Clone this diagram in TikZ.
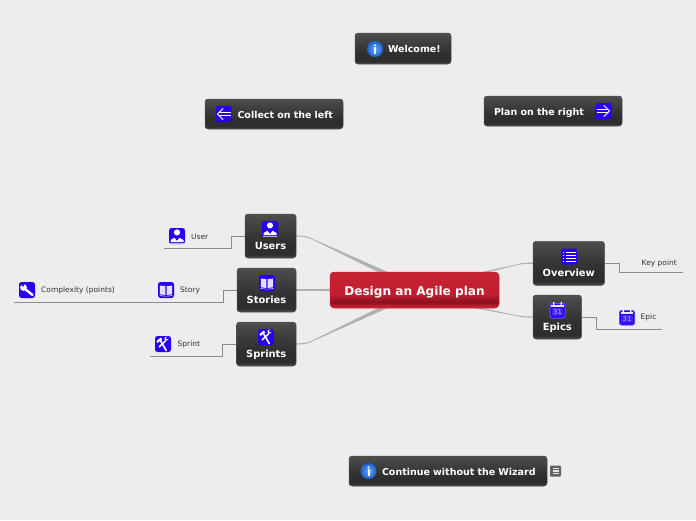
\documentclass[tikz,border=0pt]{standalone}
\usepackage{fontspec}
\setmainfont{DejaVu Sans}
\usetikzlibrary{calc}
\definecolor{pagebg}{HTML}{EDEDED}
\definecolor{iconblue}{HTML}{2800F0}
\definecolor{iconpale}{HTML}{3C20FF}
\definecolor{bareline}{HTML}{8C8C8C}
\definecolor{mainline}{HTML}{B0B0B0}
\definecolor{dkA}{HTML}{4E4E4E}
\definecolor{dkB}{HTML}{3A3A3A}
\definecolor{dkC}{HTML}{2E2E2E}
\definecolor{dkD}{HTML}{505050}
\definecolor{rdA}{HTML}{C82233}
\definecolor{rdB}{HTML}{C01F30}
\definecolor{rdC}{HTML}{8C1020}
\definecolor{rdD}{HTML}{C42030}
\definecolor{infoA}{HTML}{64ACF6}
\definecolor{infoB}{HTML}{1C5FD0}
\pgfdeclareverticalshading{darkbox}{100bp}{
 color(0bp)=(dkD); color(25bp)=(dkD); color(29bp)=(dkC); color(40bp)=(dkC);
 color(55bp)=(dkB); color(75bp)=(dkA); color(100bp)=(dkA)}
\pgfdeclareverticalshading{redbox}{100bp}{
 color(0bp)=(rdD); color(25bp)=(rdD); color(28bp)=(rdB); color(33bp)=(rdC); color(44bp)=(rdB);
 color(75bp)=(rdA); color(100bp)=(rdA)}
\tikzset{
 x=1pt,y=-1pt,
 darknode/.style={shading=darkbox,rounded corners=3pt,draw=dkD,line width=.5pt,inner xsep=0pt,inner ysep=0pt,text=white,font=\bfseries\fontsize{9.5}{11}\selectfont,minimum height=30pt,text height=8.5pt,text depth=0pt},
 topic/.style={darknode,font=\bfseries\fontsize{9.9}{12}\selectfont,minimum height=44pt,text height=26pt,text depth=0pt,align=center},
 rootnode/.style={shading=redbox,rounded corners=4pt,draw=rdA,line width=.5pt,text=white,font=\bfseries\fontsize{12.1}{14}\selectfont,minimum width=169pt,minimum height=36pt,inner sep=0pt,text height=11pt,text depth=0pt},
 leaf/.style={font=\fontsize{7.5}{8}\selectfont,text=black!80,inner sep=0pt,anchor=west},
 taper/.style={fill=mainline,draw=mainline,line width=.6pt,line join=round},
 stem/.style={draw=mainline,line width=1.1pt},
 twig/.style={draw=bareline,line width=1pt},
 tile/.pic={\fill[iconblue,rounded corners=2.5pt] (-8,-8) rectangle (8,8);},
 usericon/.pic={\pic{tile};\fill[white] (0,-3.6) circle (3.1);
   \fill[white] (-6.5,6) -- (-6.5,4) -- (-2.5,1.8) -- (0,5) -- (2.5,1.8) -- (6.5,4) -- (6.5,6) -- cycle;
   \draw[white!70!iconblue,line width=.6pt] (-7,7.2) -- (7,7.2);},
 bookicon/.pic={\pic{tile};\fill[white!88!iconblue] (-6.2,-4.5) -- (-.7,-3.8) -- (-.7,5) -- (-6.2,4.3) -- cycle (6.2,-4.5) -- (.7,-3.8) -- (.7,5) -- (6.2,4.3) -- cycle;
   \draw[white,line width=.5pt] (-6.5,5.5) -- (-.5,6.2) (6.5,5.5) -- (.5,6.2);},
 wrenchicon/.pic={\pic{tile};\draw[white,line width=2.4pt,line cap=round] (-2.5,-1.5) -- (5.5,5);
   \fill[white] (-3.5,-2.5) circle (3.4);\fill[iconblue] (-7,-6.5) -- (-3.8,-3) -- (-2.4,-6.8) -- cycle;},
 toolicon/.pic={\pic{tile};\draw[white,line width=1.6pt] (-2.5,-3.5) -- (3.5,7);
   \draw[white,line width=1.4pt] (3,-3.5) -- (-4,3);\draw[white,line width=2.2pt] (-6,-2) -- (-1.5,-5.5);
   \fill[white] (3.5,-5.5) circle (2);\fill[iconblue] (4,-8) -- (2.8,-5) -- (6,-5) -- cycle;},
 calicon/.pic={\fill[iconpale!80!white,rounded corners=2.5pt] (-8,-7) rectangle (8,8.5);
   \fill[iconblue,rounded corners=1.5pt] (-7,-6) rectangle (7,7.5);
   \fill[iconpale] (-5.8,-2.5) rectangle (5.8,6.2);\fill[white!90!iconblue] (-6.2,-4.8) rectangle (6.2,-3);\fill[white] (-4.3,-8) rectangle (-3.1,-4) (3.1,-8) rectangle (4.3,-4);
   \node[text=white!70!iconblue,inner sep=0pt,font=\fontsize{7}{7}\selectfont] at (0,2) {31};},
 listicon/.pic={\pic{tile};\foreach \yy in {-4.5,-1.5,1.5,4.5}{\fill[white] (-6.5,\yy-.45) rectangle (-5,\yy+.45);\fill[white] (-3.5,\yy-.45) rectangle (6.5,\yy+.45);}},
 lefticon/.pic={\pic{tile};\draw[white,line width=1pt,line cap=round,line join=round] (-.5,-5.5) -- (-6,0) -- (-.5,5.5);\draw[white,line width=.9pt] (7,-1.2) -- (-4.8,-1.2) (7,1.2) -- (-4.8,1.2);},
 righticon/.pic={\pic{tile};\draw[white,line width=1pt,line cap=round,line join=round] (.5,-5.5) -- (6,0) -- (.5,5.5);\draw[white,line width=.9pt] (-7,-1.2) -- (4.8,-1.2) (-7,1.2) -- (4.8,1.2);},
 infoicon/.pic={\shade[inner color=infoA,outer color=infoB] (0,0) circle (8);
   \fill[white] (0,-3.8) circle (1.1);\fill[white] (-1,-1.6) rectangle (1,5);},
 noteicon/.pic={\fill[black!62,rounded corners=1pt] (-5.5,-5.5) rectangle (5.5,5.5);
   \foreach \yy in {-2.8,0,2.8}{\fill[white!90!black] (-3,\yy-.6) rectangle (3,\yy+.6);}},
}
\begin{document}
\begin{tikzpicture}
\useasboundingbox (0,0) rectangle (696,520);
\fill[pagebg] (0,0) rectangle (696,520);
\path (414.5,290) node[minimum width=169pt,minimum height=36pt,inner sep=0pt] (rootc) {};
\path (270.5,236) node[minimum width=51pt,minimum height=44pt,inner sep=0pt] (usersc) {};
\path (266.5,290) node[minimum width=59pt,minimum height=44pt,inner sep=0pt] (storiesc) {};
\path (266.25,344) node[minimum width=59.5pt,minimum height=44pt,inner sep=0pt] (sprintsc) {};
\path (568.75,263.25) node[minimum width=71.5pt,minimum height=44pt,inner sep=0pt] (overviewc) {};
\path (557.25,317) node[minimum width=48.5pt,minimum height=44pt,inner sep=0pt] (epicsc) {};
\coordinate (userend) at (164,248);
\coordinate (storyend) at (14,302.5);
\coordinate (sprintend) at (150,356.5);
\coordinate (keyend) at (683,272);
\coordinate (epicend) at (662,329);
\coordinate (uj) at ([shift={(15pt,-2.6pt)}]usersc.east);
\coordinate (sj) at ([shift={(15pt,2.6pt)}]sprintsc.east);
\coordinate (oj) at ([shift={(-14pt,-1pt)}]overviewc.west);
\coordinate (ej) at ([shift={(-14pt,1pt)}]epicsc.west);

\draw[stem] (usersc.east) .. controls +(6,0) and +(-4,-2) .. (uj);
\filldraw[taper] (uj) -- ([shift={(-28pt,0pt)}]rootc.north) -- ([shift={(-36pt,0pt)}]rootc.north) -- cycle;
\draw[stem] (sprintsc.east) .. controls +(6,0) and +(-4,2) .. (sj);
\filldraw[taper] (sj) -- ([shift={(-28pt,0pt)}]rootc.south) -- ([shift={(-36pt,0pt)}]rootc.south) -- cycle;
\draw[stem] (storiesc.east) -- (rootc.west);
\filldraw[taper] ([shift={(20pt,0pt)}]storiesc.east) -- ([shift={(0pt,1pt)}]rootc.west) -- ([shift={(0pt,-1pt)}]rootc.west) -- cycle;
\draw[stem] (overviewc.west) .. controls +(-6,0) and +(4,-1) .. (oj);
\filldraw[taper] (oj) -- ([shift={(70pt,0pt)}]rootc.north) -- ([shift={(74pt,0pt)}]rootc.north) -- cycle;
\draw[stem] (epicsc.west) .. controls +(-6,0) and +(4,1) .. (ej);
\filldraw[taper] (ej) -- ([shift={(62pt,0pt)}]rootc.south) -- ([shift={(66pt,0pt)}]rootc.south) -- cycle;

\draw[twig] (usersc.west) -- (231,236) -- (231,248) -- (userend);
\draw[twig] (storiesc.west) -- (223.5,290) -- (223.5,302.5) -- (storyend);
\draw[twig] (sprintsc.west) -- (222.5,344) -- (222.5,356.5) -- (sprintend);
\draw[twig] (overviewc.east) -- (619,263.25) -- (619,272) -- (keyend);
\draw[twig] (epicsc.east) -- (596.5,317) -- (596.5,329) -- (epicend);

\node[darknode,minimum width=96pt,minimum height=31pt,text width=96pt,align=left] (welcome) at (403,48.5) {\hspace*{33pt}Welcome!};
\node[darknode,minimum width=138pt,text width=138pt,align=left] (collect) at (274,114) {\hspace*{32.5pt}Collect on the left};
\node[darknode,minimum width=138pt,text width=138pt,align=left] (plan) at (553,111) {\hspace*{10pt}Plan on the right};
\node[darknode,minimum width=198pt,text width=198pt,align=left] (continue) at (448,471) {\hspace*{33pt}Continue without the Wizard};
\node[rootnode] (root) at (rootc) {Design an Agile plan};
\node[topic,minimum width=51pt] (users) at (usersc) {Users};
\node[topic,minimum width=59pt] (stories) at (storiesc) {Stories};
\node[topic,minimum width=59.5pt] (sprints) at (sprintsc) {Sprints};
\node[topic,minimum width=71.5pt] (overview) at (overviewc) {Overview};
\node[topic,minimum width=48.5pt] (epics) at (epicsc) {Epics};

\node[leaf] (user) at (191,236.5) {User};
\node[leaf] (story) at (180,290.5) {Story};
\node[leaf] (complexity) at (41,290.5) {Complexity (points)};
\node[leaf] (sprint) at (177.5,344.5) {Sprint};
\node[leaf] (keypoint) at (641.5,263.5) {Key point};
\node[leaf] (epic) at (640.5,317.5) {Epic};

\pic at (375,49) {infoicon};
\pic at (368.5,471) {infoicon};
\pic at (555.5,471) {noteicon};
\pic at (223.5,114) {lefticon};
\pic at (603.5,111) {righticon};
\pic at (270,229) {usericon};
\pic at (267,283) {bookicon};
\pic at (266,337) {toolicon};
\pic at (569,256.5) {listicon};
\pic at (557.5,310) {calicon};
\pic at (177,236) {usericon};
\pic at (166,290) {bookicon};
\pic at (27,290) {wrenchicon};
\pic at (163,344) {toolicon};
\pic at (627,317) {calicon};
\end{tikzpicture}
\end{document}
